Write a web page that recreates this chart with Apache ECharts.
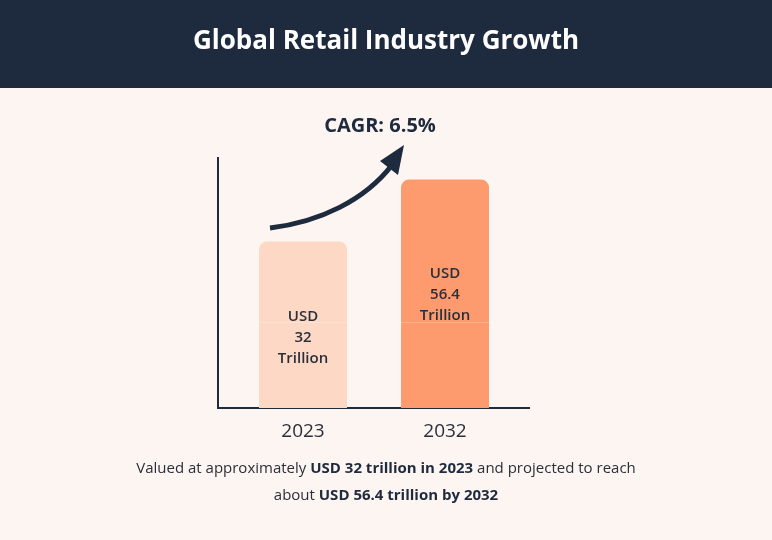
<!DOCTYPE html>
<html><head><meta charset="utf-8">
<script src="https://cdn.jsdelivr.net/npm/echarts@6/dist/echarts.min.js"></script>
<style>html,body{margin:0;padding:0;background:#fdf5f1}#c{width:772px;height:540px}</style>
</head><body><div id="c"></div>
<script>
const categories = ['2023', '2032'];
const values = [32, 56.4];
const valueLabels = ['USD\n32\nTrillion', 'USD\n56.4\nTrillion'];
const baseOffset = [33.7, 33.7];
const barColors = ['#fdd9c5', '#fd9b6e'];
const labelOffsets = [[0, 56], [0, 44]];

const chart = echarts.init(document.getElementById('c'));
const F = 'Open Sans';
chart.setOption({
  backgroundColor: '#fdf5f1',
  animation: false,
  textStyle: { fontFamily: F },
  grid: { left: 232, right: 256, top: 157, bottom: 132 },
  xAxis: {
    type: 'category', data: categories,
    axisLine: { show: false }, axisTick: { show: false },
    axisLabel: { color: '#2a2f3a', fontSize: 19, fontWeight: 500, margin: 14, fontFamily: F }
  },
  yAxis: { type: 'value', min: 0, max: 99, show: false, splitLine: { show: false } },
  series: [
    { type: 'bar', stack: 's', barWidth: 88, data: baseOffset.map((v, i) => ({ value: v, itemStyle: { color: barColors[i] } })), silent: true },
    { type: 'bar', stack: 's', barWidth: 88,
      data: values.map((v, i) => ({
        value: v,
        itemStyle: { color: barColors[i], borderRadius: [8, 8, 0, 0] },
        label: { show: true, position: 'inside', offset: labelOffsets[i], formatter: valueLabels[i],
          color: '#2a2f3a', fontSize: 15, fontWeight: 600, lineHeight: 21, fontFamily: F }
      }))
    }
  ],
  graphic: [
    { type: 'rect', shape: { x: 0, y: 0, width: 772, height: 88 }, style: { fill: '#1e2a3d' } },
    { type: 'text', x: 386, y: 42, style: { text: 'Global Retail Industry Growth', fill: '#fff', font: `bold 26px "${F}"`, textAlign: 'center', textVerticalAlign: 'middle' } },
    { type: 'text', x: 380, y: 126, style: { text: 'CAGR: 6.5%', fill: '#1e2a3d', font: `bold 20px "${F}"`, textAlign: 'center', textVerticalAlign: 'middle' } },
    { type: 'line', shape: { x1: 218, y1: 157, x2: 218, y2: 409 }, style: { stroke: '#1e2a3d', lineWidth: 2 } },
    { type: 'line', shape: { x1: 217, y1: 408, x2: 530, y2: 408 }, style: { stroke: '#1e2a3d', lineWidth: 2 } },
    { type: 'bezierCurve', shape: { x1: 270, y1: 228, cpx1: 320, cpy1: 222, cpx2: 365, cpy2: 200, x2: 392, y2: 165 }, style: { stroke: '#1e2a3d', lineWidth: 5, fill: null } },
    { type: 'polygon', shape: { points: [[404, 145], [380, 161], [398, 175]] }, style: { fill: '#1e2a3d' } },
    { type: 'text', x: 386, y: 469, style: {
        text: '{n|Valued at approximately }{b|USD 32 trillion in 2023}{n| and projected to reach}',
        textAlign: 'center', textVerticalAlign: 'middle',
        rich: { n: { fontSize: 15, fontFamily: F, fill: '#2a2f3a', fontWeight: 500 }, b: { fontSize: 15, fontFamily: F, fill: '#1e2a3d', fontWeight: 'bold' } } } },
    { type: 'text', x: 386, y: 496, style: {
        text: '{n|about }{b|USD 56.4 trillion by 2032}',
        textAlign: 'center', textVerticalAlign: 'middle',
        rich: { n: { fontSize: 15, fontFamily: F, fill: '#2a2f3a', fontWeight: 500 }, b: { fontSize: 15, fontFamily: F, fill: '#1e2a3d', fontWeight: 'bold' } } } }
  ]
});
</script></body></html>
